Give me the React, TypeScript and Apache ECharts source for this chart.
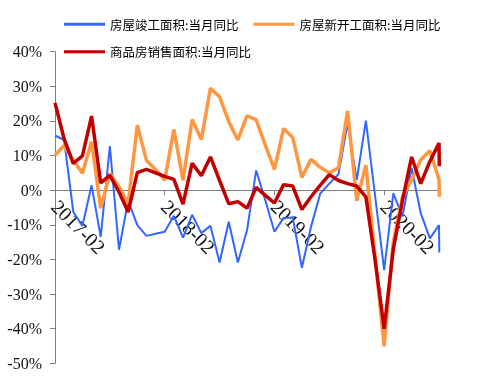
import React, { useEffect, useRef } from "react";
import * as echarts from "echarts";

const months = [
  "2017-02", "2017-03", "2017-04", "2017-05", "2017-06", "2017-07", "2017-08", "2017-09", "2017-10", "2017-11", "2017-12",
  "2018-01", "2018-02", "2018-03", "2018-04", "2018-05", "2018-06", "2018-07", "2018-08", "2018-09", "2018-10", "2018-11", "2018-12",
  "2019-01", "2019-02", "2019-03", "2019-04", "2019-05", "2019-06", "2019-07", "2019-08", "2019-09", "2019-10", "2019-11", "2019-12",
  "2020-01", "2020-02", "2020-03", "2020-04", "2020-05", "2020-06", "2020-07", "2020-08",
];
const labelIndices = [0, 12, 24, 36];

const completed = [
  15.8, 14.5, -6.3, -10.3, 1.4, -13.5, 12.7, -17.2, -3.0, -10.1, -13.2,
  -12.6, -12.0, -7.4, -13.7, -7.1, -12.4, -10.3, -20.9, -9.1, -20.9, -11.6,
  5.7, -2.9, -12.0, -8.0, -7.9, -22.4, -10.6, -1.0, 1.9, 4.6, 19.3, 2.9, 20.1,
  -1.5, -23.1, -0.9, -7.6, 6.4, -6.6, -13.9, -10.1,
];
const completedEnd = -18.0;

const started = [
  10.1, 12.9, 8.7, 4.9, 14.0, -5.2, 4.8, 1.0, -3.9, 18.8, 8.6,
  6.0, 2.9, 17.5, 2.9, 20.4, 14.6, 29.4, 27.0, 19.8, 14.5, 21.5,
  20.3, 13.0, 6.0, 17.8, 15.2, 3.7, 8.9, 6.6, 5.0, 6.5, 22.9, -3.1, 7.2,
  -19.0, -45.1, -15.0, -2.0, 3.0, 8.8, 11.4, 3.0,
];
const startedEnd = -1.9;

const sales = [
  25.2, 14.8, 7.7, 9.9, 21.4, 2.1, 4.3, -0.5, -6.3, 5.1, 6.0,
  5.0, 4.0, 3.1, -4.0, 7.8, 4.2, 9.6, 2.8, -3.9, -3.3, -5.2,
  0.8, -1.5, -3.7, 1.6, 1.2, -5.6, -1.9, 1.4, 4.5, 2.8, 1.9, 1.2, -1.9,
  -20.0, -40.0, -17.0, -3.0, 9.6, 1.9, 8.3, 13.6,
];
const salesEnd = 6.9;

const endX = 42.03;
const yMin = -50;
const yMax = 40;

const names = ["房屋竣工面积:当月同比", "房屋新开工面积:当月同比", "商品房销售面积:当月同比"];
const colors = ["#3366FF", "#FF9640", "#C00000"];
const widths = [2, 3.5, 3.5];

const serif = "'Liberation Serif', 'Times New Roman', serif";

function toPairs(vals: number[], endVal: number) {
  const arr: number[][] = vals.map((v, i) => [i, v]);
  arr.push([endX, endVal]);
  return arr;
}

export default function App() {
  const ref = useRef<HTMLDivElement>(null);
  useEffect(() => {
    if (!ref.current) return;
    const chart = echarts.init(ref.current, undefined, { renderer: "svg" });
    const datasets = [toPairs(completed, completedEnd), toPairs(started, startedEnd), toPairs(sales, salesEnd)];
    const gridTop = 51.7;
    const gridBottom = 19.7;
    const gridH = 383 - gridTop - gridBottom;
    // place the date axis on the zero line of the value axis
    const zeroOffset = -gridH * (0 - yMin) / (yMax - yMin);
    chart.setOption({
      animation: false,
      legend: {
        data: names.map((n, k) => ({ name: n, icon: "rect", itemStyle: { color: colors[k] } })),
        left: 59,
        top: 13,
        width: 400,
        itemWidth: 41,
        itemHeight: 3,
        itemGap: 15,
        textStyle: { fontSize: 12.5, fontFamily: "Noto Sans CJK SC", color: "#000" },
      },
      grid: { left: 55, right: 58.7, top: gridTop, bottom: gridBottom, containLabel: false, outerBoundsMode: "none" },
      xAxis: {
        type: "value",
        min: 0,
        max: endX,
        position: "bottom",
        offset: zeroOffset,
        splitLine: { show: false },
        axisLine: { onZero: false, lineStyle: { color: "#808080", width: 1 } },
        axisTick: { show: true, length: 5, customValues: labelIndices, lineStyle: { color: "#808080" } },
        axisLabel: {
          customValues: labelIndices,
          rotate: -45,
          margin: 13,
          fontSize: 20,
          fontFamily: serif,
          color: "#111",
          formatter: (v: number) => months[Math.round(v)] ?? "",
        },
      },
      yAxis: {
        type: "value",
        min: yMin,
        max: yMax,
        interval: 10,
        splitLine: { show: false },
        axisLine: { show: true, onZero: false, lineStyle: { color: "#808080", width: 1 } },
        axisTick: { show: true, length: 5, lineStyle: { color: "#808080" } },
        axisLabel: {
          margin: 13,
          fontSize: 16,
          fontFamily: serif,
          color: "#111",
          formatter: (v: number) => v + "%",
        },
      },
      series: names.map((n, k) => ({
        name: n,
        type: "line",
        data: datasets[k],
        symbol: "none",
        showSymbol: false,
        color: colors[k],
        lineStyle: { width: widths[k], color: colors[k] },
        emphasis: { disabled: true },
        z: 2 + k,
      })),
    });
    return () => chart.dispose();
  }, []);
  return <div ref={ref} style={{ position: "fixed", left: 0, top: 0, width: 498, height: 383 }} />;
}
